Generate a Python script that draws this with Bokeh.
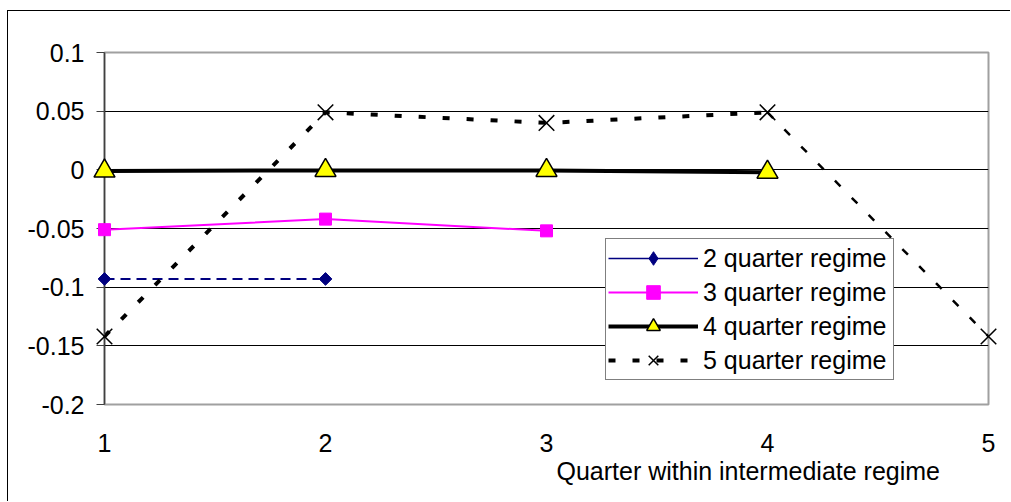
import math
from bokeh.plotting import figure
from bokeh.models import Legend, LegendItem, FixedTicker, Title, Range1d
from bokeh.embed import file_html
from bokeh.resources import INLINE

# ---- data ----
quarters = [1, 2, 3, 4, 5]
q2 = [-0.093, -0.093]
q3 = [-0.051, -0.042, -0.052]
q4 = [-0.001, -0.0005, -0.0005, -0.002]
q5 = [-0.142, 0.049, 0.040, 0.049, -0.142]
series_names = ["2 quarter regime", "3 quarter regime", "4 quarter regime", "5 quarter regime"]
y_ticks = [-0.2, -0.15, -0.1, -0.05, 0, 0.05, 0.1]
y_tick_labels = ["-0.2", "-0.15", "-0.1", "-0.05", "0", "0.05", "0.1"]
grid_ticks = [-0.15, -0.1, -0.05, 0, 0.05]
x_title = "Quarter within intermediate regime"

FONT = "Liberation Sans"
FS = "25px"

p = figure(width=1003, height=491, x_range=Range1d(1, 5), y_range=Range1d(-0.2, 0.1),
           output_backend="svg", toolbar_location=None,
           min_border_left=96, min_border_right=23, min_border_top=41, min_border_bottom=98)
p.styles = {"margin-left": "7px", "margin-top": "10px",
            "border-top": "1px solid black", "border-left": "1px solid black"}
p.background_fill_color = "white"
p.border_fill_color = "white"
p.outline_line_color = "#a0a0a0"
p.outline_line_width = 2

p.xgrid.visible = False
p.ygrid.ticker = FixedTicker(ticks=grid_ticks)
p.ygrid.grid_line_color = "black"
p.ygrid.grid_line_width = 1

p.yaxis.ticker = FixedTicker(ticks=y_ticks)
p.yaxis.major_label_overrides = {t: s for t, s in zip(y_ticks, y_tick_labels)}
p.yaxis.axis_line_color = "#404040"
p.yaxis.axis_line_width = 1.5
p.yaxis.major_tick_line_color = "#404040"
p.yaxis.major_tick_out = 8
p.yaxis.major_tick_in = 0
p.yaxis.minor_tick_line_color = None
p.yaxis.major_label_standoff = 12
p.yaxis.major_label_text_font = FONT
p.yaxis.major_label_text_font_size = FS
p.yaxis.major_label_text_color = "black"

p.xaxis.ticker = FixedTicker(ticks=quarters)
p.xaxis.axis_line_color = None
p.xaxis.major_tick_line_color = None
p.xaxis.minor_tick_line_color = None
p.xaxis.major_label_standoff = 23
p.xaxis.major_label_text_font = FONT
p.xaxis.major_label_text_font_size = FS
p.xaxis.major_label_text_color = "black"

# ---- series ----
nan2 = [math.nan for _ in q2]

r2 = p.line(quarters[:2], q2, line_color="#000080", line_width=2, line_dash="10 6")
r2m = p.scatter(quarters[:2], q2, marker="square", angle=math.pi / 4, size=9,
                fill_color="#000080", line_color="#000080", level="overlay")
# legend-only glyphs (solid line + diamond, as in the original key)
r2leg = p.line(quarters[:2], nan2, line_color="#000080", line_width=1.5)
r2legm = p.scatter(quarters[:2], nan2, marker="diamond", size=13,
                   fill_color="#000080", line_color="#000080")

r3 = p.line(quarters[:3], q3, line_color="#FF00FF", line_width=2)
r3m = p.scatter(quarters[:3], q3, marker="square", size=12,
                fill_color="#FF00FF", line_color="#FF00FF", level="overlay")

r4 = p.line(quarters[:4], q4, line_color="black", line_width=4)
r4m = p.scatter(quarters[:4], q4, marker="triangle", size=21,
                fill_color="#FFFF00", line_color="black", line_width=1.5, level="overlay")

r5 = p.line(quarters[:4], q5[:4], line_color="black", line_width=4, line_dash="7 17")
r5b = p.line(quarters[3:], q5[3:], line_color="black", line_width=2.5, line_dash="8 16")
r5m = p.scatter(quarters, q5, marker="x", size=22, line_color="black", line_width=1.5,
                level="overlay")

legend = Legend(items=[
    LegendItem(label=series_names[0], renderers=[r2leg, r2legm]),
    LegendItem(label=series_names[1], renderers=[r3, r3m]),
    LegendItem(label=series_names[2], renderers=[r4, r4m]),
    LegendItem(label=series_names[3], renderers=[r5, r5m]),
], location=(501, 24))
legend.label_text_font = FONT
legend.label_text_font_size = FS
legend.label_text_color = "black"
legend.glyph_width = 90
legend.glyph_height = 34
legend.label_height = 34
legend.label_width = 188
legend.label_standoff = 5
legend.spacing = -4
legend.padding = 2
legend.margin = 0
legend.border_line_color = "black"
legend.border_line_width = 1
legend.background_fill_color = "white"
legend.background_fill_alpha = 1
p.add_layout(legend)

x_title_obj = Title(text=x_title, align="left", offset=452, standoff=0,
                    text_font=FONT, text_font_size=FS, text_font_style="normal",
                    text_color="black")
p.add_layout(x_title_obj, "below")

open("out.html", "w").write(file_html(p, INLINE))
